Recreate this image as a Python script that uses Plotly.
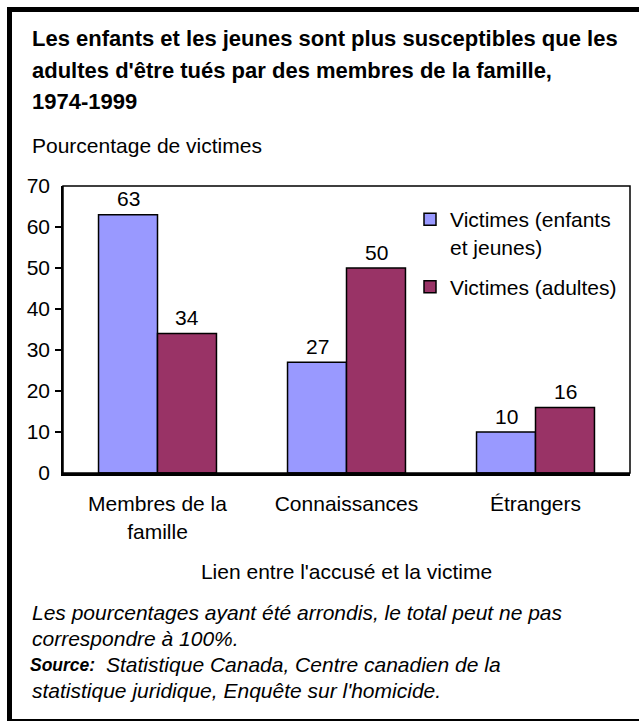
import plotly.graph_objects as go

# ---- data ----
categories = ["Membres de la<br>famille", "Connaissances", "Étrangers"]
series_names = ["Victimes (enfants<br>et jeunes)", "Victimes (adultes)"]
children_youth = [63, 27, 10]
adults = [34, 50, 16]
y_ticks = [0, 10, 20, 30, 40, 50, 60, 70]

title_lines = [
    "Les enfants et les jeunes sont plus susceptibles que les",
    "adultes d'être tués par des membres de la famille,",
    "1974-1999",
]
y_title = "Pourcentage de victimes"
x_title = "Lien entre l'accusé et la victime"
note_lines = [
    "Les pourcentages ayant été arrondis, le total peut ne pas",
    "correspondre à 100%.",
]
source_label = "Source:"
source_lines = [
    "Statistique Canada, Centre canadien de la",
    "statistique juridique, Enquête sur l'homicide.",
]

# ---- layout geometry (pixels) ----
W, H = 639, 723
L, R, T, B = 63, 630, 186, 473
FONT = "Liberation Sans, Arial, Helvetica, sans-serif"
BLUE = "#9999FF"
MAROON = "#993366"


def px(x):
    return (x - L) / (R - L)


def py(y):
    return (B - y) / (B - T)


fig = go.Figure()
for name, vals, col, grp in [
    (series_names[0], children_youth, BLUE, "a"),
    (series_names[1], adults, MAROON, "b"),
]:
    fig.add_trace(go.Bar(
        x=categories, y=vals, name=name, legendgroup=grp,
        marker=dict(color=col, line=dict(color="black", width=1.5)),
    ))

annotations = []
# data labels
for vals, shift in [(children_youth, -29.5), (adults, 29.5)]:
    for c, v in zip(categories, vals):
        annotations.append(dict(
            x=c, y=v, xref="x", yref="y", text=str(v), showarrow=False,
            xshift=shift, yshift=16, yanchor="middle", xanchor="center",
            font=dict(size=21, color="black", family=FONT)))

# title
for i, (line, yc) in enumerate(zip(title_lines, [38, 71, 102])):
    annotations.append(dict(
        x=px(30), y=py(yc), xref="paper", yref="paper", text="<b>%s</b>" % line,
        showarrow=False, xanchor="left", yanchor="middle",
        font=dict(size=22, color="black", family=FONT)))

annotations.append(dict(
    x=px(30), y=py(145), xref="paper", yref="paper", text=y_title,
    showarrow=False, xanchor="left", yanchor="middle",
    font=dict(size=21, color="black", family=FONT)))

for line, yc in zip(note_lines, [612, 638]):
    annotations.append(dict(
        x=px(30), y=py(yc), xref="paper", yref="paper", text="<i>%s</i>" % line,
        showarrow=False, xanchor="left", yanchor="middle",
        font=dict(size=21, color="black", family=FONT)))

annotations.append(dict(
    x=px(28), y=py(664.5), xref="paper", yref="paper",
    text="<b><i>%s</i></b>" % source_label,
    showarrow=False, xanchor="left", yanchor="middle",
    font=dict(size=17.5, color="black", family=FONT)))
annotations.append(dict(
    x=px(104), y=py(664), xref="paper", yref="paper",
    text="<i>%s</i>" % source_lines[0],
    showarrow=False, xanchor="left", yanchor="middle",
    font=dict(size=21, color="black", family=FONT)))
annotations.append(dict(
    x=px(30), y=py(690), xref="paper", yref="paper",
    text="<i>%s</i>" % source_lines[1],
    showarrow=False, xanchor="left", yanchor="middle",
    font=dict(size=21, color="black", family=FONT)))

shapes = [
    # plot box
    dict(type="rect", xref="paper", yref="paper", x0=0, x1=1, y0=0, y1=1,
         line=dict(color="black", width=1.5), layer="above"),
    # outer frame
    dict(type="rect", xref="paper", yref="paper", x0=px(7), x1=px(12),
         y0=py(721), y1=py(7), fillcolor="black", line=dict(width=0)),
    dict(type="rect", xref="paper", yref="paper", x0=px(7), x1=px(645),
         y0=py(12), y1=py(7), fillcolor="black", line=dict(width=0)),
    dict(type="rect", xref="paper", yref="paper", x0=px(7), x1=px(645),
         y0=py(721), y1=py(719), fillcolor="black", line=dict(width=0)),
]

fig.update_layout(
    width=W, height=H,
    margin=dict(l=L, r=W - R, t=T, b=H - B, pad=0),
    paper_bgcolor="white", plot_bgcolor="white",
    barmode="group", bargap=0.376, bargroupgap=0,
    font=dict(family=FONT, size=21, color="black"),
    showlegend=True,
    legend=dict(
        x=px(410), y=py(199), xanchor="left", yanchor="top",
        font=dict(size=21, family=FONT, color="black"),
        valign="top", tracegroupgap=10, bgcolor="rgba(0,0,0,0)",
        traceorder="grouped",
    ),
    annotations=annotations,
    shapes=shapes,
    xaxis=dict(
        showline=True, linecolor="black", linewidth=3,
        ticks="", showgrid=False, zeroline=False, ticklabelstandoff=10,
        tickfont=dict(size=21, family=FONT, color="black"),
        title=dict(text=x_title, font=dict(size=21, family=FONT, color="black"), standoff=23),
    ),
    yaxis=dict(
        range=[0, 70], tickvals=y_ticks, ticks="", ticklabelstandoff=7,
        showline=True, linecolor="black", linewidth=1.5,
        showgrid=False, zeroline=False,
        tickfont=dict(size=21, family=FONT, color="black"),
        minor=dict(tickvals=y_ticks[1:-1], ticks="outside", ticklen=6,
                   tickcolor="black", tickwidth=1.5),
    ),
)

fig.write_html(
    "out.html",
    config={"displayModeBar": False},
    post_script="document.body.style.margin='0px';document.body.style.overflow='hidden';",
)
